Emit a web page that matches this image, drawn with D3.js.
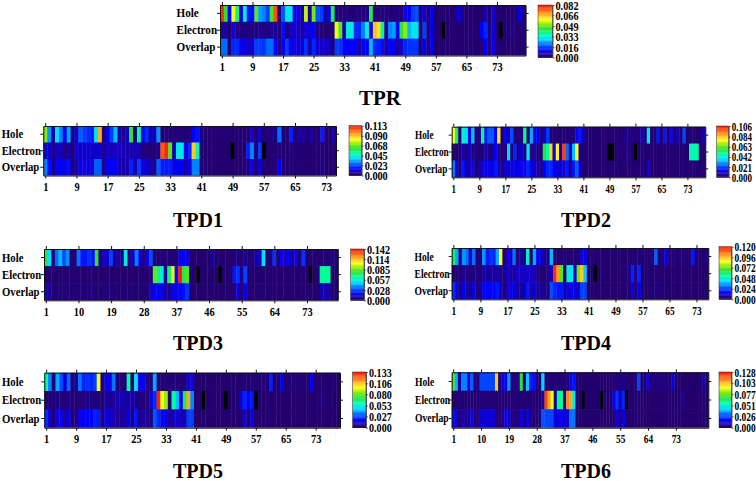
<!DOCTYPE html>
<html><head><meta charset="utf-8">
<script src="https://cdnjs.cloudflare.com/ajax/libs/d3/7.8.5/d3.min.js"></script>
<style>
html,body{margin:0;padding:0;background:#fff}
text{font-family:"Liberation Serif",serif;font-weight:bold;fill:#000}
</style></head><body>
<svg id="c" width="756" height="481"></svg>
<script>
// Values are in thousandths. null = off-scale cell, drawn black.
const rowNames = ["Hole","Electron","Overlap"];
const ticks8 = [1,9,17,25,33,41,49,57,65,73];
const ticks9 = [1,10,19,28,37,46,55,64,73];

const tprLegend = ["0.000","0.016","0.033","0.049","0.066","0.082"];
const tpd1Legend = ["0.000","0.023","0.045","0.068","0.090","0.113"];
const tpd2Legend = ["0.000","0.021","0.042","0.063","0.084","0.106"];
const tpd3Legend = ["0.000","0.028","0.057","0.085","0.114","0.142"];
const tpd4Legend = ["0.000","0.024","0.048","0.072","0.096","0.120"];
const tpd5Legend = ["0.000","0.027","0.053","0.080","0.106","0.133"];
const tpd6Legend = ["0.000","0.026","0.051","0.077","0.103","0.128"];

const tprHole = [80,45,10,58,40,8,32,12,12,48,24,22,16,46,76,4,18,30,30,10,8,6,55,5,50,18,16,6,8,42,3,4,3,4,3,3,3,4,4,42,3,3,3,4,3,3,4,3,9,10,16,18,4,8,3,10,2,2,2,2,2,2,10,2,2,2,2,2,2,6,2,7,2,2,2,2,2,2,10,3];
const tprElectron = [5,5,2,7,4,4,4,4,4,4,5,4,4,5,5,3,12,3,7,7,7,5,8,8,10,4,3,2,3,2,58,48,6,32,32,14,14,22,32,10,65,62,38,5,22,24,10,44,52,26,30,30,3,16,4,10,2,2,null,2,2,2,2,2,2,2,2,2,10,14,3,8,2,null,3,3,4,3,3,2];
const tprOverlap = [20,20,2,14,14,9,10,6,8,16,16,15,20,20,11,4,9,16,9,9,8,8,15,6,14,8,7,7,7,3,16,15,10,10,11,11,5,10,11,26,14,13,12,5,11,10,5,7,14,15,15,15,3,10,3,10,2,2,2,2,2,2,2,2,2,2,2,2,3,10,2,9,2,2,2,2,2,2,2,2];

const tpd1Hole = [70,32,8,40,30,14,34,6,10,26,22,20,18,40,92,4,14,22,36,8,6,10,62,4,50,14,20,8,10,32,4,5,4,5,5,4,4,5,14,16,6,3,3,3,3,3,4,3,3,3,3,3,4,9,3,10,4,3,6,6,28,3,3,18,3,7,7,3,8,3,3,18,4,3,8];
const tpd1Electron = [10,10,6,9,9,5,8,5,10,10,10,10,10,10,10,7,9,9,9,9,9,8,8,9,8,5,5,5,5,6,104,110,66,8,42,42,12,20,88,48,3,2,2,2,2,2,2,2,null,2,2,2,18,30,5,22,null,2,3,3,4,2,3,4,3,3,3,3,3,3,3,4,2,2,2];
const tpd1Overlap = [30,16,6,14,14,12,16,5,8,12,12,12,12,26,26,6,14,14,14,8,8,8,18,8,22,11,11,7,7,26,18,18,18,12,14,14,8,12,30,30,5,2,2,2,2,2,2,2,2,2,2,2,6,12,3,12,3,2,2,5,14,3,3,3,3,3,3,3,3,3,3,6,2,2,3];

const tpd2Hole = [76,52,4,42,38,12,34,4,6,50,16,24,24,14,80,4,12,8,22,5,5,5,50,4,32,10,14,5,8,20,3,4,3,4,3,4,4,3,12,16,8,3,3,3,3,3,3,3,3,3,3,3,3,6,3,6,3,3,8,3,38,3,3,16,3,16,3,12,3,8,3,22,3,3,3,3,3,8];
const tpd2Electron = [4,3,4,8,3,8,6,4,4,4,8,4,6,14,4,4,4,36,3,18,4,10,4,38,4,8,4,4,56,48,82,10,78,8,100,26,8,34,76,6,3,3,3,3,3,3,3,3,null,null,3,3,3,5,5,3,null,3,3,3,3,3,3,3,3,3,3,3,3,3,3,3,3,46,46,46,3,3];
const tpd2Overlap = [28,12,3,16,8,8,12,4,6,12,12,12,12,16,8,5,10,10,10,12,12,12,12,18,12,8,8,5,14,18,18,14,10,10,10,16,5,16,24,10,3,3,3,3,3,3,3,3,3,3,3,3,3,3,3,3,3,3,5,3,10,3,3,3,3,3,3,3,3,3,3,5,3,3,3,3,3,3];

const tpd3Hole = [75,50,6,35,45,30,40,6,5,36,22,22,26,20,78,6,12,12,28,8,10,8,55,6,14,38,16,5,14,30,5,5,5,5,5,6,5,14,18,14,3,3,3,3,3,3,10,3,3,3,3,3,3,8,3,8,3,5,10,12,50,5,6,26,5,16,12,18,7,16,5,26,3,3,3,3,3,3,3,8,3];
const tpd3Electron = [3,3,3,3,3,3,3,3,3,3,3,3,3,3,3,3,3,3,3,3,3,3,3,3,3,3,3,3,3,6,84,70,55,8,70,100,20,140,75,82,3,3,null,3,3,3,3,3,null,3,3,3,22,26,8,28,3,3,3,3,3,3,3,3,3,3,3,3,3,3,3,3,3,null,3,3,65,65,65,4,3];
const tpd3Overlap = [12,8,3,6,5,6,6,3,4,6,5,5,6,7,5,3,5,5,6,4,4,4,5,3,5,5,4,3,3,12,18,18,16,10,8,16,16,18,20,26,3,3,3,3,3,3,3,3,3,3,3,3,5,14,5,14,3,3,3,3,5,3,3,3,3,3,3,3,3,3,3,3,3,3,3,3,10,10,10,3,3];

const tpd4Hole = [60,36,6,34,30,10,30,4,5,34,18,22,20,36,86,4,10,12,30,5,8,6,50,3,36,14,12,4,8,38,4,3,3,4,3,4,4,4,10,16,2,2,2,2,2,2,4,2,2,2,2,2,2,6,2,6,2,2,4,4,28,4,3,16,3,5,5,4,5,5,3,18,2,2,2,7];
const tpd4Electron = [5,4,5,7,6,5,6,5,5,8,8,7,8,8,7,6,10,8,8,10,10,10,10,10,10,5,5,5,5,10,116,100,70,6,48,44,10,72,94,40,2,2,null,2,2,2,2,2,2,2,2,2,6,20,6,20,2,2,2,2,2,2,2,2,2,2,2,2,2,2,2,2,2,2,2,2];
const tpd4Overlap = [22,12,4,14,8,6,14,4,6,16,16,16,16,18,10,5,10,12,14,8,8,8,18,6,16,7,7,7,5,26,20,18,18,8,12,14,12,10,24,24,2,2,2,2,2,2,2,2,2,2,2,2,2,12,2,14,2,2,2,2,6,2,2,2,2,2,2,2,2,2,2,2,2,2,2,2];

const tpd5Hole = [60,35,5,40,28,12,32,5,8,34,22,24,22,26,95,4,14,14,34,5,6,6,60,3,48,16,16,6,6,40,4,4,4,4,5,4,4,5,12,14,2,2,2,2,2,2,2,2,2,2,2,2,3,6,3,5,2,3,5,5,22,3,3,16,3,5,6,5,4,4,2,16,2,2,2,2,2,6,3];
const tpd5Electron = [3,4,5,7,5,5,7,4,5,6,6,7,7,6,5,5,8,8,8,10,10,9,9,9,9,6,5,5,14,24,130,95,85,6,60,42,14,70,110,36,2,2,null,2,2,2,2,2,null,2,2,2,12,22,16,20,null,2,2,2,2,2,2,2,2,2,2,2,2,2,2,2,2,6,6,2,2,2,2];
const tpd5Overlap = [24,12,3,14,14,8,16,5,6,14,16,18,18,22,20,4,14,12,10,8,8,8,16,6,20,8,8,8,6,30,22,14,16,8,10,12,10,10,26,26,2,2,2,2,2,2,2,2,2,2,2,2,3,14,3,14,2,2,2,2,6,2,2,3,2,2,2,2,2,2,3,2,2,2,2,2,2,2,2];

const tpd6Hole = [75,40,8,34,34,14,30,6,6,26,26,26,26,26,100,5,14,14,36,5,6,6,70,4,42,18,18,5,5,44,4,4,4,4,5,4,4,5,16,18,2,2,2,2,2,2,2,2,2,2,2,2,3,6,3,7,2,3,4,4,26,3,3,14,3,6,6,6,6,6,2,16,2,2,2,2,2,2,2,2,2,8,2];
const tpd6Electron = [3,3,3,4,3,3,4,3,3,3,3,4,3,4,3,3,4,3,4,3,4,3,4,3,6,3,3,3,3,8,120,105,90,8,60,60,8,110,105,50,2,2,null,2,2,2,2,2,null,2,2,2,14,24,10,22,null,2,2,2,2,2,2,2,2,2,2,2,2,2,2,2,2,2,7,2,2,2,2,2,2,2,2];
const tpd6Overlap = [18,14,3,10,8,6,14,4,6,12,12,12,12,12,6,4,6,14,12,6,6,6,14,5,14,5,5,5,4,28,26,26,26,12,14,14,14,12,32,32,2,2,2,2,2,2,2,2,2,2,2,2,3,14,3,14,2,2,2,2,2,2,2,2,2,2,2,2,2,2,2,2,2,2,2,2,2,2,2,2,2,2,2];

const rampStops = [0,.045,.09,.13,.25,.35,.45,.55,.65,.72,.85,1];
const rampColors = ["#240068","#22007a","#1000d0","#0000ff","#0070ff","#00e0ff","#00ffa0","#30e030","#a0f000","#ffff20","#ff9020","#ff1000"];

// Layout only: plot box, legend box, title position, row-label left edge, text squeeze factors.
const panels = [
 {name:"TPR", hole:tprHole, electron:tprElectron, overlap:tprOverlap, legend:tprLegend, ticks:ticks8,
  x0:220,x1:525.6,y0:5,y1:55.5,lx0:538,lx1:552.5,ly0:5,ly1:57.5,tx:380,ty:105,tf:21,rx:176.5,rk:.89,xk:.8,lk:.82},
 {name:"TPD1", hole:tpd1Hole, electron:tpd1Electron, overlap:tpd1Overlap, legend:tpd1Legend, ticks:ticks8,
  x0:43.3,x1:336,y0:126,y1:175.5,lx0:349,lx1:361.7,ly0:125.7,ly1:175.5,tx:198,ty:227,tf:20,rx:1.7,rk:.86,xk:.8,lk:.82},
 {name:"TPD2", hole:tpd2Hole, electron:tpd2Electron, overlap:tpd2Overlap, legend:tpd2Legend, ticks:ticks8,
  x0:451.7,x1:705.3,y0:126.7,y1:177.3,lx0:716.7,lx1:728.7,ly0:126,ly1:177.3,tx:586,ty:227,tf:20,rx:415,rk:.74,xk:.68,lk:.72},
 {name:"TPD3", hole:tpd3Hole, electron:tpd3Electron, overlap:tpd3Overlap, legend:tpd3Legend, ticks:ticks9,
  x0:44,x1:337.8,y0:249,y1:300.3,lx0:350.7,lx1:364,ly0:249,ly1:300.3,tx:198,ty:349.5,tf:20,rx:2,rk:.86,xk:.8,lk:.82},
 {name:"TPD4", hole:tpd4Hole, electron:tpd4Electron, overlap:tpd4Overlap, legend:tpd4Legend, ticks:ticks8,
  x0:451.7,x1:708.3,y0:248,y1:299.3,lx0:719,lx1:731.5,ly0:246.7,ly1:299.3,tx:586,ty:349.5,tf:20,rx:414.5,rk:.77,xk:.72,lk:.75},
 {name:"TPD5", hole:tpd5Hole, electron:tpd5Electron, overlap:tpd5Overlap, legend:tpd5Legend, ticks:ticks8,
  x0:44.3,x1:340,y0:372.7,y1:427.7,lx0:352.7,lx1:366,ly0:372,ly1:427.7,tx:198,ty:478,tf:20,rx:2,rk:.86,xk:.8,lk:.81},
 {name:"TPD6", hole:tpd6Hole, electron:tpd6Electron, overlap:tpd6Overlap, legend:tpd6Legend, ticks:ticks9,
  x0:451.7,x1:708.3,y0:372.3,y1:427.7,lx0:719,lx1:731.5,ly0:372,ly1:427.7,tx:586,ty:478,tf:20,rx:415,rk:.77,xk:.72,lk:.75}
];

const svg = d3.select("#c");
svg.append("defs").append("filter").attr("id","soft").attr("x","-2%").attr("y","-5%").attr("width","104%").attr("height","110%")
   .append("feGaussianBlur").attr("stdDeviation","0.45 0.3");
const ramp = d3.scaleLinear().domain(rampStops).range(rampColors).interpolate(d3.interpolateRgb).clamp(true);

const styleText = (sel, size, k, forceX) => sel.selectAll("text")
    .style("font-size",size+"px").style("font-family",'"Liberation Serif",serif').style("font-weight","bold")
    .attr("fill","#000")
    .each(function(){
       const t = d3.select(this);
       const X = forceX !== undefined ? forceX : (+t.attr("x") || 0);
       t.attr("x",0).attr("transform",`translate(${X},0) scale(${k},1)`);
       if (forceX !== undefined) t.attr("text-anchor","start");
    });

panels.forEach(p => {
  const g = svg.append("g");
  const rows = [p.hole, p.electron, p.overlap];
  const n = p.hole.length;
  const max = +p.legend[p.legend.length-1] * 1000;
  const x = d3.scaleLinear().domain([0.5, n+0.5]).range([p.x0, p.x1]);
  const y = d3.scaleBand().domain(rowNames).range([p.y0, p.y1]);
  const bw = x(2)-x(1);
  const cells = g.append("g").attr("filter","url(#soft)");
  rowNames.forEach((r,ri) => {
    cells.append("g").selectAll("rect").data(rows[ri]).join("rect")
      .attr("x",(d,i)=>x(i+0.5))
      .attr("y",y(r))
      .attr("width",bw+0.4)
      .attr("height",y.bandwidth()+(ri<2?0.6:0))
      .attr("fill",d=> d===null ? "#000" : ramp(d/max));
  });

  const axB = g.append("g").attr("transform",`translate(0,${p.y1})`)
     .call(d3.axisBottom(x).tickValues(p.ticks).tickSize(3).tickPadding(3).tickSizeOuter(0));
  styleText(axB,13,p.xk);
  const axT = g.append("g").attr("transform",`translate(0,${p.y0})`)
     .call(d3.axisTop(x).tickValues(p.ticks).tickSize(3).tickFormat("").tickSizeOuter(0));
  axT.selectAll("text").remove();
  const axL = g.append("g").attr("transform",`translate(${p.x0},0)`)
     .call(d3.axisLeft(y).tickSize(3).tickPadding(2).tickSizeOuter(0));
  styleText(axL,12.5,p.rk,p.rx-p.x0);
  const axR = g.append("g").attr("transform",`translate(${p.x1},0)`)
     .call(d3.axisRight(y).tickSize(3).tickFormat("").tickSizeOuter(0));
  axR.selectAll("text").remove();
  [axB,axT,axL,axR].forEach(a => a.selectAll("path,line").attr("stroke","#111").attr("stroke-width",1));

  // legend
  const ly = d3.scaleLinear().domain([0,max]).range([p.ly1,p.ly0]);
  const lg = svg.append("g");
  const steps = d3.range(0,max,max/64);
  lg.selectAll("rect").data(steps).join("rect")
    .attr("x",p.lx0).attr("width",p.lx1-p.lx0)
    .attr("y",d=>ly(d+max/64)).attr("height",d=>ly(d)-ly(d+max/64)+0.3)
    .attr("fill",d=>ramp(d/max));
  const lax = lg.append("g").attr("transform",`translate(${p.lx1},0)`)
    .call(d3.axisRight(ly).tickValues(p.legend.map(v=>+v*1000)).tickFormat((d,i)=>p.legend[i]).tickSize(2).tickPadding(1).tickSizeOuter(0));
  styleText(lax,12.5,p.lk);
  lax.selectAll("path,line").attr("stroke","#222").attr("stroke-width",0.7);
  lg.append("rect").attr("x",p.lx0).attr("y",p.ly0).attr("width",p.lx1-p.lx0).attr("height",p.ly1-p.ly0).attr("fill","none").attr("stroke","#222").attr("stroke-width",0.5);

  svg.append("text").attr("x",p.tx).attr("y",p.ty).attr("text-anchor","middle").style("font-size",p.tf+"px").text(p.name);
});
</script>
</body></html>
